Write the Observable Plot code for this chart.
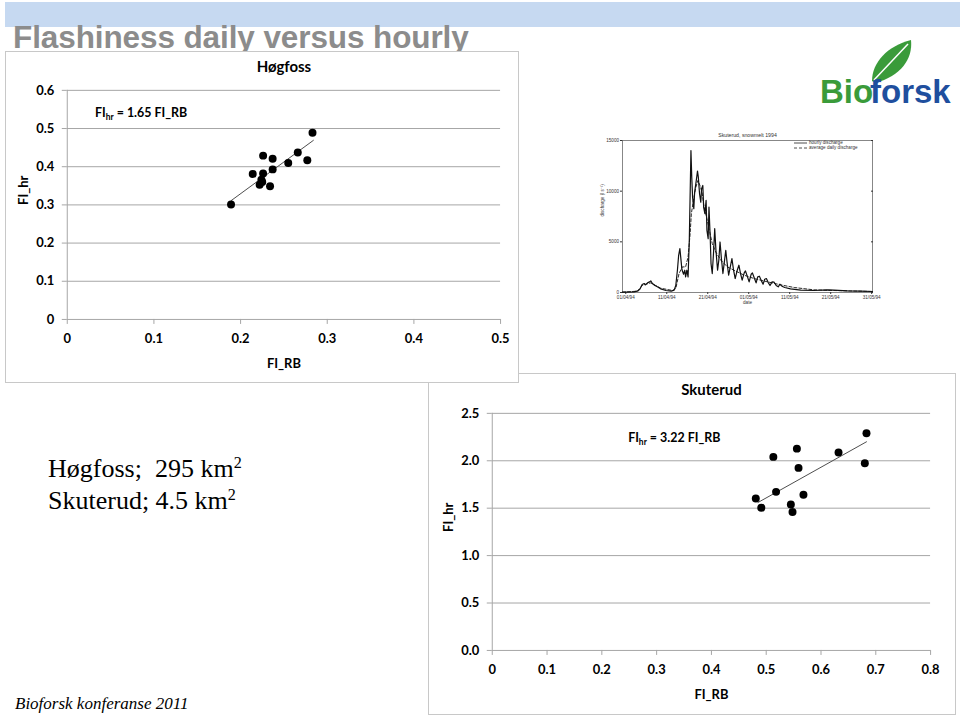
<!DOCTYPE html>
<html>
<head>
<meta charset="utf-8">
<script src="https://cdn.jsdelivr.net/npm/d3@7"></script>
<script src="https://cdn.jsdelivr.net/npm/@observablehq/plot@0.6"></script>
<style>
  html, body { margin: 0; padding: 0; background: #fff; }
  #page { position: relative; width: 960px; height: 716px; overflow: hidden; background: #fff; }
  .band { position: absolute; left: 5px; top: 2px; width: 955px; height: 25px; background: #c6d9f1; }
  .title { position: absolute; left: 13px; top: 19px; font: bold 31.5px/36px "Liberation Sans", Arial, sans-serif; color: #8c8c8c; white-space: nowrap; letter-spacing: -0.1px; }
  .box { position: absolute; background: #fff; border: 1px solid #c8c8c8; box-sizing: border-box; }
  .box svg { position: absolute; left: -1px; top: -1px; }
  .body { position: absolute; left: 48px; top: 453px; font: 26px/32px "Liberation Serif", "Times New Roman", serif; color: #000; white-space: nowrap; }
  .body sup { font-size: 0.62em; vertical-align: 0.55em; line-height: 0; }
  .footer { position: absolute; left: 15px; top: 695px; font: italic 17px/17px "Liberation Serif", "Times New Roman", serif; color: #000; white-space: nowrap; }
  #inset { position: absolute; left: 598px; top: 128px; }
  .legend { position: absolute; left: 794px; top: 140px; font: 4.6px/5px "Liberation Sans", Arial, sans-serif; color: #333; white-space: nowrap; }
  .legend div { display: flex; align-items: center; height: 5px; }
  .legend svg { margin-right: 2px; }
  #logo { position: absolute; left: 812px; top: 35px; }
</style>
</head>
<body>
<div id="page">
  <div class="band"></div>
  <div class="title">Flashiness daily versus hourly</div>
  <div class="box" id="skuBox" style="left:428px; top:373px; width:528px; height:342px;"></div>
  <div class="box" id="hogBox" style="left:5px; top:51px; width:514px; height:332px;"></div>
  <div id="inset"></div>
  <div class="legend">
    <div><svg width="13" height="4"><line x1="0" y1="2" x2="13" y2="2" stroke="#222" stroke-width="0.8"/></svg>hourly discharge</div>
    <div><svg width="13" height="4"><line x1="0" y1="2" x2="13" y2="2" stroke="#222" stroke-width="0.8" stroke-dasharray="3,2"/></svg>average daily discharge</div>
  </div>
  <svg id="logo" width="148" height="80">
    <path d="M60,46 C60,28 75,11 99,5 C101,24 89,41 63,48 Z" fill="#3a9b3a"/>
    <path d="M62,45 Q79,27 96,9" stroke="#fff" stroke-width="1.5" fill="none"/>
    <text x="8" y="68" font-family="Liberation Sans, Arial, sans-serif" font-weight="bold" font-size="33" fill="#3a9b3a">Bio</text>
    <text x="58" y="68" font-family="Liberation Sans, Arial, sans-serif" font-weight="bold" font-size="33" fill="#1f4f9e">forsk</text>
  </svg>
  <div class="body">Høgfoss;&nbsp; 295 km<sup>2</sup><br>Skuterud; 4.5 km<sup>2</sup></div>
  <div class="footer">Bioforsk konferanse 2011</div>
</div>
<script>
// ---------- Data ----------
// Høgfoss: flashiness index, daily (Richards-Baker) vs hourly
const hogfossFIRB = [0.189, 0.214, 0.226, 0.226, 0.224, 0.222, 0.225, 0.234, 0.237, 0.237, 0.255, 0.266, 0.277, 0.283];
const hogfossFIhr = [0.301, 0.381, 0.429, 0.382, 0.366, 0.353, 0.360, 0.349, 0.421, 0.393, 0.410, 0.437, 0.417, 0.489];
const hogfossTrendX = [0.189, 0.284];
const hogfossTrendY = [0.311, 0.469];
const hogfossXTicks = [0, 0.1, 0.2, 0.3, 0.4, 0.5];
const hogfossYTicks = [0, 0.1, 0.2, 0.3, 0.4, 0.5, 0.6];

// Skuterud
const skuterudFIRB = [0.481, 0.491, 0.513, 0.518, 0.545, 0.548, 0.556, 0.559, 0.568, 0.632, 0.680, 0.683];
const skuterudFIhr = [1.602, 1.504, 2.041, 1.672, 1.539, 1.459, 2.128, 1.925, 1.641, 2.086, 1.974, 2.290];
const skuterudTrendX = [0.485, 0.683];
const skuterudTrendY = [1.56, 2.20];
const skuterudXTicks = [0, 0.1, 0.2, 0.3, 0.4, 0.5, 0.6, 0.7, 0.8];
const skuterudYTicks = [0, 0.5, 1.0, 1.5, 2.0, 2.5];

// Skuterud snowmelt 1994 hydrograph (day index, discharge)
const hourlyDay = [-0.8, 2.0, 3.0, 3.5, 4.0, 4.5, 4.8, 5.3, 5.8, 6.1, 6.5, 7.1, 7.7, 8.5, 9.8, 11.1, 11.8, 12.2, 12.6, 12.9, 13.2, 13.4, 13.7, 14.1, 14.4, 14.6, 14.9, 15.2, 15.5, 15.9, 16.1, 16.3, 16.6, 16.8, 17.2, 17.5, 17.7, 18.0, 18.3, 18.5, 18.8, 19.0, 19.3, 19.6, 19.8, 20.1, 20.3, 20.6, 20.8, 21.1, 21.4, 21.7, 22.0, 22.4, 22.7, 23.0, 23.3, 23.7, 24.0, 24.4, 24.7, 25.1, 25.5, 25.9, 26.3, 26.7, 27.2, 27.6, 28.0, 28.4, 28.9, 29.2, 29.7, 30.1, 30.6, 30.9, 31.4, 31.8, 32.2, 32.6, 33.1, 33.5, 33.9, 34.3, 34.8, 35.2, 35.7, 36.2, 36.7, 37.2, 37.6, 38.1, 38.8, 40.2, 42.7, 45.9, 49.2, 50.8, 54.1, 57.3, 60.2];
const hourlyQ = [33, 66, 164, 361, 787, 886, 754, 951, 1050, 1148, 886, 689, 558, 361, 197, 131, 230, 689, 2198, 3674, 4330, 3510, 2263, 1804, 2198, 1542, 2198, 1542, 5150, 14006, 11382, 9414, 8266, 9906, 11054, 11972, 11382, 9742, 8922, 10234, 10562, 8430, 7774, 9086, 6134, 5314, 8430, 5478, 2854, 1870, 3838, 6298, 4166, 2198, 3182, 4986, 3510, 1870, 2854, 4166, 3018, 1706, 2526, 3346, 2198, 1378, 2198, 2690, 1870, 1214, 1935, 2132, 1542, 1050, 1804, 1935, 1378, 951, 1542, 1607, 1148, 820, 1312, 1378, 951, 689, 1050, 1017, 689, 558, 820, 623, 492, 361, 230, 197, 262, 230, 164, 131, 98];
const dailyDay = [-0.8, 2.8, 4.1, 6.1, 8.5, 11.4, 12.2, 13.0, 13.8, 14.6, 15.2, 15.7, 16.0, 16.5, 17.1, 17.6, 18.1, 18.6, 19.1, 19.8, 20.4, 21.1, 21.95, 23.2, 24.8, 26.4, 28.9, 31.3, 34.6, 37.8, 41.1, 45.9, 50.8, 60.2];
const dailyQ = [33, 131, 722, 951, 426, 197, 394, 1870, 2526, 2526, 3510, 5806, 7774, 9086, 10398, 11054, 10562, 9906, 8430, 7282, 6134, 4822, 4002, 3182, 2526, 2198, 1706, 1378, 1050, 754, 492, 262, 197, 98];
const insetXTicks = [0, 10, 20, 30, 40, 50, 60];
const insetXLabels = ["01/04/94", "11/04/94", "21/04/94", "01/05/94", "11/05/94", "21/05/94", "31/05/94"];
const insetYTicks = [0, 5000, 10000, 15000];

// ---------- Charts ----------
const gridColor = "#a6a6a6";
const font = "Lato, 'Open Sans', 'Liberation Sans', sans-serif";
const plainNum = d => String(+d.toFixed(2));

function scatter({xs, ys, tx, ty, xTicks, yTicks, yFormat, xDomain, yDomain, width, height, margins, title, slope, eqX, eqY}) {
  const pts = xs.map((x, i) => ({x, y: ys[i]}));
  const trend = tx.map((x, i) => ({x, y: ty[i]}));
  const svg = Plot.plot({
    width, height,
    marginLeft: margins[0], marginRight: margins[1], marginTop: margins[2], marginBottom: margins[3],
    style: {fontFamily: font, fontSize: "13px", fontWeight: "bold", color: "#000", background: "transparent", overflow: "visible"},
    x: {domain: xDomain},
    y: {domain: yDomain},
    marks: [
      Plot.gridY(yTicks.filter(d => d > 0), {stroke: gridColor, strokeOpacity: 1, strokeWidth: 1}),
      Plot.ruleY([0], {stroke: gridColor, strokeWidth: 1}),
      Plot.ruleX([0], {stroke: gridColor, strokeWidth: 1}),
      Plot.axisX({ticks: xTicks, tickSize: 5, tickPadding: 9, stroke: gridColor, fill: "#000", label: null, tickFormat: plainNum}),
      Plot.axisY({ticks: yTicks, tickSize: 5, tickPadding: 8, stroke: gridColor, fill: "#000", label: null, tickFormat: yFormat}),
      Plot.line(trend, {x: "x", y: "y", stroke: "#4d4d4d", strokeWidth: 1}),
      Plot.dot(pts, {x: "x", y: "y", r: 4, fill: "#000", stroke: "none"}),
      Plot.text([title], {frameAnchor: "top", dy: -23, fontSize: 15, fontWeight: "bold", lineAnchor: "middle"}),
      Plot.text(["FI_RB"], {frameAnchor: "bottom", dy: 45, fontSize: 13, fontWeight: "bold", lineAnchor: "middle"}),
      Plot.text(["FI_hr"], {frameAnchor: "left", dx: -44, rotate: -90, fontSize: 13, fontWeight: "bold", lineAnchor: "middle"}),
      Plot.text([{x: eqX, y: eqY, t: "EQ"}], {x: "x", y: "y", text: "t", textAnchor: "start", fontSize: 12.5, fontWeight: "bold", lineAnchor: "middle"})
    ]
  });
  // equation with subscript
  for (const t of svg.querySelectorAll("text")) {
    if (t.textContent === "EQ") {
      t.textContent = "";
      const ns = "http://www.w3.org/2000/svg";
      const a = document.createElementNS(ns, "tspan"); a.textContent = "FI";
      const b = document.createElementNS(ns, "tspan"); b.textContent = "hr"; b.setAttribute("font-size", "8.5"); b.setAttribute("dy", "3");
      const c = document.createElementNS(ns, "tspan"); c.textContent = ` = ${slope} FI_RB`; c.setAttribute("dy", "-3");
      t.append(a, b, c);
    }
  }
  return svg;
}

document.getElementById("hogBox").append(scatter({
  xs: hogfossFIRB, ys: hogfossFIhr, tx: hogfossTrendX, ty: hogfossTrendY,
  xTicks: hogfossXTicks, yTicks: hogfossYTicks, yFormat: plainNum,
  xDomain: [0, 0.5], yDomain: [0, 0.6],
  width: 514, height: 332, margins: [62, 17, 39, 63],
  title: "Høgfoss", slope: "1.65", eqX: 0.032, eqY: 0.54
}));

document.getElementById("skuBox").append(scatter({
  xs: skuterudFIRB, ys: skuterudFIhr, tx: skuterudTrendX, ty: skuterudTrendY,
  xTicks: skuterudXTicks, yTicks: skuterudYTicks, yFormat: d3.format(".1f"),
  xDomain: [0, 0.8], yDomain: [0, 2.5],
  width: 528, height: 342, margins: [64, 24, 40, 64],
  title: "Skuterud", slope: "3.22", eqX: 0.248, eqY: 2.24
}));

// Inset hydrograph
const hourly = hourlyDay.map((d, i) => ({d, q: hourlyQ[i]}));
const daily = dailyDay.map((d, i) => ({d, q: dailyQ[i]}));
document.getElementById("inset").append(Plot.plot({
  width: 285, height: 180,
  marginLeft: 24, marginRight: 11, marginTop: 12, marginBottom: 16,
  style: {fontFamily: "'Liberation Sans', Arial, sans-serif", fontSize: "4.6px", color: "#333", background: "transparent", overflow: "visible"},
  x: {domain: [-0.8, 60.2]},
  y: {domain: [0, 15000]},
  marks: [
    Plot.frame({stroke: "#555", strokeWidth: 0.7}),
    Plot.axisX({ticks: insetXTicks, tickSize: 2, tickPadding: 1.5, tickFormat: (d, i) => insetXLabels[i], label: null, stroke: "#333"}),
    Plot.axisY({ticks: insetYTicks, tickSize: 2, tickPadding: 1.5, label: null, stroke: "#333", tickFormat: d3.format("d")}),
    Plot.axisY({ticks: insetYTicks, anchor: "right", tickSize: -2, tickFormat: () => "", label: null, stroke: "#333"}),
    Plot.line(daily, {x: "d", y: "q", stroke: "#111", strokeWidth: 0.9, strokeDasharray: "3,2"}),
    Plot.line(hourly, {x: "d", y: "q", stroke: "#111", strokeWidth: 1.2}),
    Plot.text(["Skuterud, snowmelt 1994"], {frameAnchor: "top", dy: -5, fontSize: 5.2, lineAnchor: "middle"}),
    Plot.text(["date"], {frameAnchor: "bottom", dy: 10, fontSize: 4.6, lineAnchor: "middle"}),
    Plot.text(["discharge (l s⁻¹)"], {frameAnchor: "left", dx: -20, rotate: -90, fontSize: 4.6, lineAnchor: "middle"})
  ]
}));
</script>
</body>
</html>
